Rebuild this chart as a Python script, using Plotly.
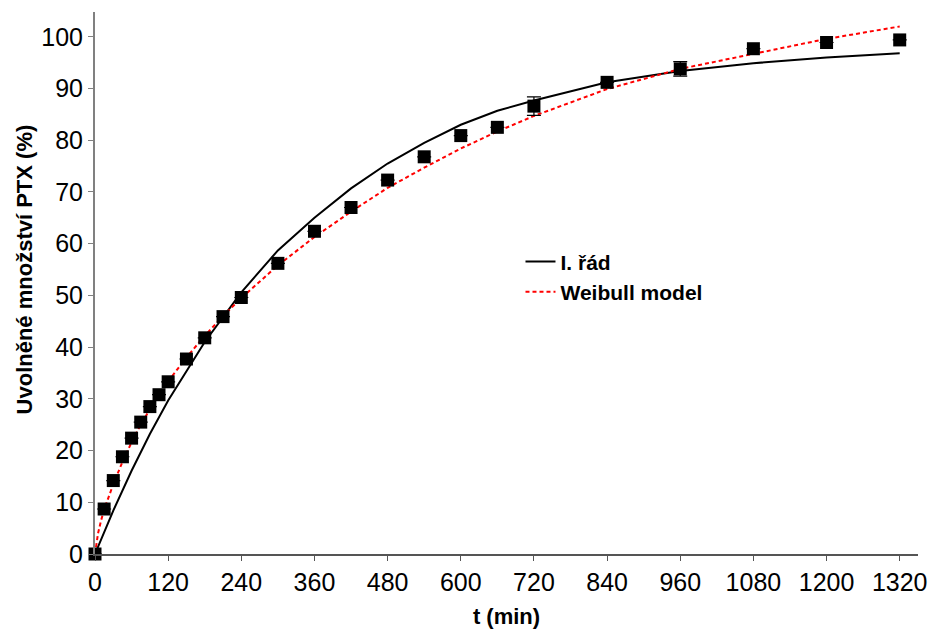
import plotly.graph_objects as go

# measured data
t_data = [0, 15, 30, 45, 60, 75, 90, 105, 120, 150, 180, 210, 240, 300, 360, 420,
          480, 540, 600, 660, 720, 840, 960, 1080, 1200, 1320]
ptx_data = [0, 8.7, 14.2, 18.8, 22.4, 25.5, 28.5, 30.8, 33.3, 37.7, 41.8, 45.9, 49.6,
            56.2, 62.4, 67.0, 72.3, 76.8, 80.9, 82.5, 86.6, 91.2, 93.8, 97.7, 98.9, 99.4]
ptx_err = [0, 0, 0, 0, 0, 0, 0, 0, 0, 0, 0, 0, 0, 0, 0, 0, 0, 0, 0, 0, 1.8, 0, 1.4, 0, 0, 0]

# first-order model curve
t_first = [0, 15, 30, 60, 90, 120, 180, 240, 300, 360, 420, 480, 540, 600, 660, 720,
           840, 960, 1080, 1200, 1320]
ptx_first = [0, 4.3, 8.4, 16.1, 23.2, 29.7, 41.0, 50.6, 58.7, 65.0, 70.7, 75.5, 79.5,
             83.0, 85.7, 87.7, 91.2, 93.4, 94.9, 96.0, 96.8]

# Weibull model curve
t_weib = [0, 5, 10, 15, 30, 45, 60, 75, 90, 120, 150, 180, 210, 240, 300, 360, 420,
          480, 540, 600, 660, 720, 840, 960, 1080, 1200, 1320]
ptx_weib = [0, 4.0, 6.5, 8.6, 13.5, 17.8, 21.6, 25.0, 28.0, 33.4, 38.0, 42.2, 46.0,
            49.5, 55.8, 61.3, 66.2, 70.8, 74.7, 78.4, 81.7, 84.7, 89.9, 93.8, 96.7, 99.6, 102.0]

x_ticks = [0, 120, 240, 360, 480, 600, 720, 840, 960, 1080, 1200, 1320]
y_ticks = [0, 10, 20, 30, 40, 50, 60, 70, 80, 90, 100]

FONT = "Liberation Sans, Arial, sans-serif"

fig = go.Figure()
fig.add_trace(go.Scatter(x=t_first, y=ptx_first, mode="lines", name="<b>I. řád</b>",
                         line=dict(color="black", width=2)))
fig.add_trace(go.Scatter(x=t_weib, y=ptx_weib, mode="lines", name="<b>Weibull model</b>",
                         line=dict(color="#ff0000", width=2, dash="4px,3px")))
fig.add_trace(go.Scatter(x=t_data, y=ptx_data, mode="markers", showlegend=False,
                         marker=dict(symbol="square", size=13, color="black"),
                         error_y=dict(type="data", array=ptx_err, color="black",
                                      thickness=1.2, width=7),
                         cliponaxis=False))

axis_font = dict(family=FONT, size=25, color="black")

fig.update_layout(
    width=935, height=637,
    margin=dict(l=95, r=17, t=12, b=83),
    paper_bgcolor="white", plot_bgcolor="white",
    font=dict(family=FONT),
    legend=dict(x=0.517, y=0.577, xanchor="left", yanchor="top",
                bgcolor="rgba(0,0,0,0)",
                font=dict(family=FONT, size=21, color="black"),
                tracegroupgap=0),
    xaxis=dict(range=[0, 1350], tickvals=x_ticks, ticks="outside", ticklen=5,
               tickcolor="#555555", showline=True, linecolor="#555555", linewidth=1.5,
               showgrid=False, zeroline=False, tickfont=axis_font, automargin=False,
               title=dict(text="<b>t (min)</b>", font=dict(family=FONT, size=22, color="black"),
                          standoff=14)),
    yaxis=dict(range=[0, 104.8], tickvals=y_ticks, ticks="outside", ticklen=5,
               tickcolor="#808080", showline=True, linecolor="#808080", linewidth=2,
               showgrid=False, zeroline=False, tickfont=axis_font, automargin=False),
    annotations=[dict(text="<b>Uvolněné množství PTX (%)</b>", textangle=-90,
                      xref="paper", yref="paper", x=-0.0863, y=0.525,
                      xanchor="center", yanchor="middle", showarrow=False,
                      font=dict(family=FONT, size=22, color="black"))],
)
fig.write_html("out.html", config={"displayModeBar": False},
               post_script="document.body.style.margin='0';")
